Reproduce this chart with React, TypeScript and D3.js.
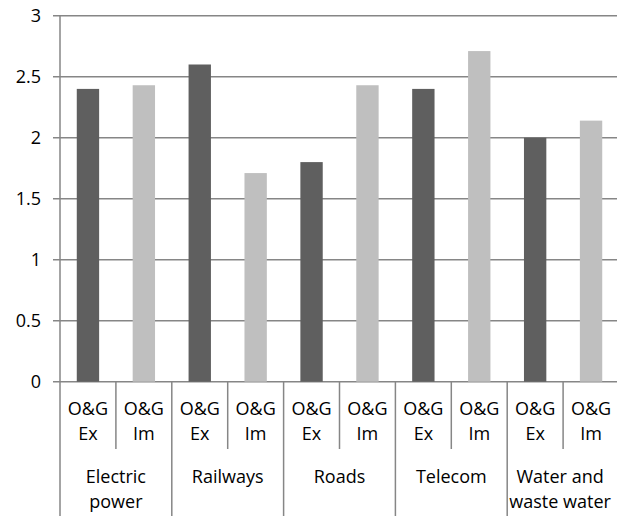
import React from "react";
import * as d3 from "d3";

const categories = ["Electric power", "Railways", "Roads", "Telecom", "Water and waste water"];
const categoryLines = [["Electric", "power"], ["Railways"], ["Roads"], ["Telecom"], ["Water and", "waste water"]];
const seriesNames = ["O&G Ex", "O&G Im"];
const seriesLines = [["O&G", "Ex"], ["O&G", "Im"]];
const exValues = [2.4, 2.6, 1.8, 2.4, 2.0];
const imValues = [2.43, 1.71, 2.43, 2.71, 2.14];
const yTicks = [0, 0.5, 1, 1.5, 2, 2.5, 3];

const W = 617;
const H = 516;
const left = 60;
const right = 619;
const top = 15.7;
const bottom = 381.7;
const FONT = "'Open Sans', sans-serif";
const FS = 18;
const colors = ["#5f5f5f", "#bfbfbf"];
const gridColor = "#868686";

export default function App() {
  const y = d3.scaleLinear().domain([0, 3]).range([bottom, top]);
  const slots = categories.flatMap((c, ci) => seriesNames.map((s, si) => `${ci}-${si}`));
  const x = d3.scaleBand().domain(slots).range([left, right]).paddingInner(0).paddingOuter(0);
  const bw = x.bandwidth();
  const barW = bw * 0.4;
  const values = [exValues, imValues];

  return (
    <svg width={W} height={H} style={{ position: "absolute", left: 0, top: 0, background: "#fff" }}>
      {yTicks.map((t) => (
        <g key={t}>
          <line x1={53} x2={right} y1={y(t)} y2={y(t)} stroke={gridColor} strokeWidth={1.5} />
          <text x={41} y={y(t)} dy="0.36em" textAnchor="end" fontFamily={FONT} fontSize={FS} fill="#000">
            {t}
          </text>
        </g>
      ))}
      {categories.map((c, ci) =>
        seriesNames.map((s, si) => {
          const key = `${ci}-${si}`;
          const v = values[si][ci];
          const cx = (x(key) as number) + bw / 2;
          return (
            <rect key={key} x={cx - barW / 2} y={y(v)} width={barW} height={y(0) - y(v)} fill={colors[si]} />
          );
        })
      )}
      <line x1={left} x2={left} y1={top} y2={H} stroke={gridColor} strokeWidth={1.5} />
      {categories.map((c, ci) => {
        const x0 = x(`${ci}-0`) as number;
        const x1 = x(`${ci}-1`) as number;
        const xEnd = x1 + bw;
        const last = ci === categories.length - 1;
        return (
          <g key={c}>
            <line x1={x1} x2={x1} y1={bottom} y2={449} stroke={gridColor} strokeWidth={1.5} />
            <line x1={xEnd} x2={xEnd} y1={bottom} y2={H} stroke={gridColor} strokeWidth={1.5} />
            {seriesLines.map((lines, si) => {
              const cx = (x(`${ci}-${si}`) as number) + bw / 2;
              return lines.map((ln, li) => (
                <text key={`${si}-${li}`} x={cx} y={415 + li * 25} textAnchor="middle" fontFamily={FONT} fontSize={FS} fill="#000">
                  {ln}
                </text>
              ));
            })}
            {categoryLines[ci].map((ln, li) => (
              <text key={li} x={(x0 + xEnd) / 2 - (last ? 3 : 0)} y={483 + li * 25} textAnchor="middle" fontFamily={FONT} fontSize={FS} fill="#000">
                {ln}
              </text>
            ))}
          </g>
        );
      })}
    </svg>
  );
}
